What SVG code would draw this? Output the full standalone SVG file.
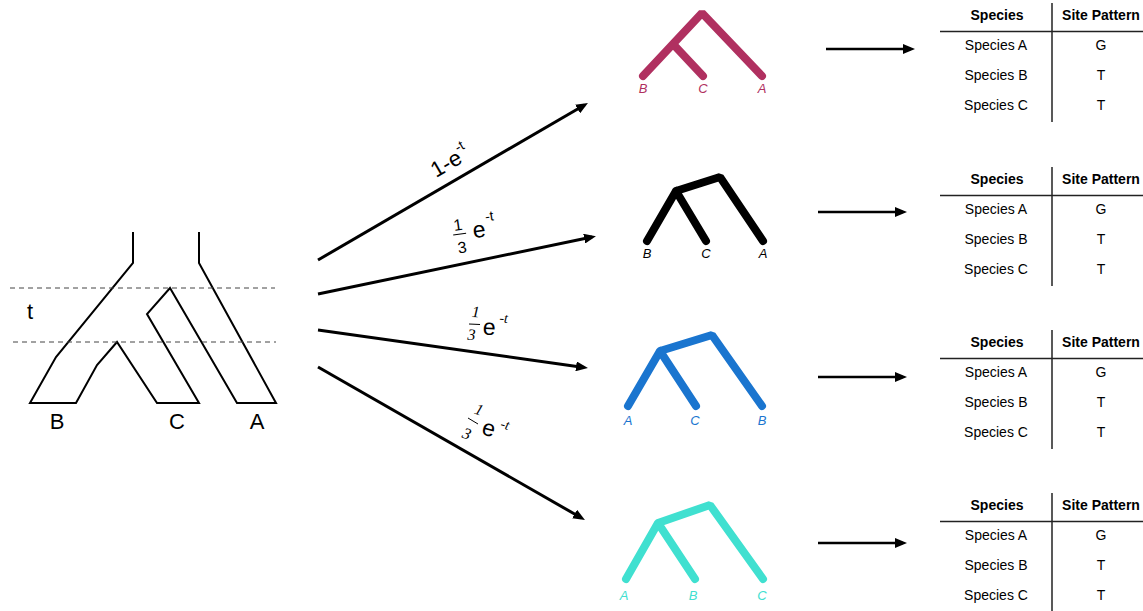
<svg xmlns="http://www.w3.org/2000/svg" width="1143" height="611" viewBox="0 0 1143 611">
<style>
.sp{fill:none;stroke:#000;stroke-width:2;stroke-linejoin:miter}
.dash{stroke:#444;stroke-width:1;stroke-dasharray:5,4}
.big{font-family:"Liberation Sans",Arial,sans-serif;font-size:22px;fill:#000}
.arr{stroke:#000;stroke-width:3;fill:none}
.harr{stroke:#000;stroke-width:2.5;fill:none}
.gt{fill:none;stroke-width:8;stroke-linecap:round;stroke-linejoin:bevel}
.tl{font-family:"Liberation Sans",Arial,sans-serif;font-size:13px;font-style:italic;text-anchor:middle}
.th{font-family:"Liberation Sans",Arial,sans-serif;font-size:14px;font-weight:bold;text-anchor:middle;fill:#000}
.td{font-family:"Liberation Sans",Arial,sans-serif;font-size:14px;text-anchor:middle;fill:#000}
.tline{stroke:#222;stroke-width:1.5}
.lab{font-family:"Liberation Sans",Arial,sans-serif;fill:#000}
.ser{font-family:"Liberation Serif","Times New Roman",serif;font-style:italic;fill:#000}
</style>
<defs>
<marker id="ah" viewBox="0 0 12 10" refX="8" refY="5" markerWidth="12" markerHeight="10" markerUnits="userSpaceOnUse" orient="auto">
<path d="M0,0 L12,5 L0,10 z" fill="#000"/>
</marker>
</defs>

<g id="species-tree">
<polyline class="sp" points="133,232 133,263 56,357 30,403 76,403 97,365 117,342 157,403 199,403 147,314 170,288 237,403 276,403 199,263 199,232"/>
<line class="dash" x1="10" y1="288" x2="275" y2="288"/>
<line class="dash" x1="13" y1="342" x2="276" y2="342"/>
<text class="big" x="30" y="319" text-anchor="middle">t</text>
<text class="big" x="57" y="429" text-anchor="middle">B</text>
<text class="big" x="177" y="429" text-anchor="middle">C</text>
<text class="big" x="257" y="429" text-anchor="middle">A</text>
</g>

<g id="connectors">
<line class="arr" x1="318" y1="260" x2="584.5" y2="105" marker-end="url(#ah)"/>
<line class="arr" x1="318" y1="294" x2="592" y2="237" marker-end="url(#ah)"/>
<line class="arr" x1="318" y1="330" x2="584" y2="367.5" marker-end="url(#ah)"/>
<line class="arr" x1="318" y1="367" x2="581.5" y2="518" marker-end="url(#ah)"/>
<line class="harr" x1="826" y1="49" x2="911" y2="49" marker-end="url(#ah)"/>
<line class="harr" x1="818" y1="212" x2="903" y2="212" marker-end="url(#ah)"/>
<line class="harr" x1="818" y1="377" x2="903" y2="377" marker-end="url(#ah)"/>
<line class="harr" x1="818" y1="543" x2="903" y2="543" marker-end="url(#ah)"/>
</g>

<g id="label-1">
<text class="lab" font-size="22" transform="translate(436,178) rotate(-30)">1-e<tspan font-size="14" dy="-11">-t</tspan></text>
</g>
<g id="label-2" transform="rotate(-8,475,232)">
<text class="lab" font-size="16" x="459" y="228" text-anchor="middle">1</text>
<line x1="453" y1="232" x2="466" y2="232" stroke="#000" stroke-width="1"/>
<text class="lab" font-size="16" x="460" y="251" text-anchor="middle">3</text>
<text class="lab" font-size="23" x="473" y="238">e</text>
<text class="lab" font-size="14" x="487" y="223">-t</text>
</g>
<g id="label-3" transform="rotate(3,490,325)">
<text class="ser" font-size="16" x="475" y="318" text-anchor="middle">1</text>
<line x1="469" y1="325" x2="480" y2="325" stroke="#000" stroke-width="1"/>
<text class="ser" font-size="16" x="472" y="341" text-anchor="middle">3</text>
<text class="lab" font-size="23" x="483" y="335">e</text>
<text class="ser" font-size="14" x="499" y="322">-t</text>
</g>
<g id="label-4">
<text class="ser" font-size="16" x="479" y="415" text-anchor="middle" transform="rotate(20,479,410)">1</text>
<line x1="468" y1="418" x2="478" y2="424" stroke="#000" stroke-width="1"/>
<text class="ser" font-size="16" x="467" y="439" text-anchor="middle" transform="rotate(20,467,433)">3</text>
<text class="lab" font-size="23" x="489" y="436" text-anchor="middle" transform="rotate(15,489,428)">e</text>
<text class="ser" font-size="14" x="505" y="429" text-anchor="middle" transform="rotate(15,505,425)">-t</text>
</g>

<g id="gene-tree-1">
<path class="gt" stroke="#b03060" d="M643,76 L702,13 L762,76 M673,44 L703,76"/>
<text class="tl" fill="#b03060" x="643" y="93">B</text>
<text class="tl" fill="#b03060" x="703" y="93">C</text>
<text class="tl" fill="#b03060" x="762" y="93">A</text>
</g>
<g id="gene-tree-2">
<path class="gt" stroke="#000" d="M647,241 L676,191 L720,177 L763,241 M676,191 L706,241"/>
<text class="tl" fill="#000" x="647" y="258">B</text>
<text class="tl" fill="#000" x="706" y="258">C</text>
<text class="tl" fill="#000" x="763" y="258">A</text>
</g>
<g id="gene-tree-3">
<path class="gt" stroke="#1a75cf" d="M628,406 L660,351 L712,335 L762,406 M660,351 L696,406"/>
<text class="tl" fill="#1a75cf" x="628" y="425">A</text>
<text class="tl" fill="#1a75cf" x="695" y="425">C</text>
<text class="tl" fill="#1a75cf" x="762" y="425">B</text>
</g>
<g id="gene-tree-4">
<path class="gt" stroke="#40e0d0" d="M626,579 L658,523 L710,505 L763,579 M658,523 L695,579"/>
<text class="tl" fill="#40e0d0" x="624" y="600">A</text>
<text class="tl" fill="#40e0d0" x="693" y="600">B</text>
<text class="tl" fill="#40e0d0" x="762" y="600">C</text>
</g>

<g id="table-1">
<line class="tline" x1="1052" y1="3" x2="1052" y2="122"/>
<line class="tline" x1="940" y1="31.5" x2="1143" y2="31.5"/>
<text class="th" x="997" y="20">Species</text>
<text class="th" x="1101" y="20">Site Pattern</text>
<text class="td" x="996" y="50">Species A</text><text class="td" x="1101" y="50">G</text>
<text class="td" x="996" y="80">Species B</text><text class="td" x="1101" y="80">T</text>
<text class="td" x="996" y="110">Species C</text><text class="td" x="1101" y="110">T</text>
</g>
<g id="table-2" transform="translate(0,164)">
<line class="tline" x1="1052" y1="3" x2="1052" y2="122"/>
<line class="tline" x1="940" y1="31.5" x2="1143" y2="31.5"/>
<text class="th" x="997" y="20">Species</text>
<text class="th" x="1101" y="20">Site Pattern</text>
<text class="td" x="996" y="50">Species A</text><text class="td" x="1101" y="50">G</text>
<text class="td" x="996" y="80">Species B</text><text class="td" x="1101" y="80">T</text>
<text class="td" x="996" y="110">Species C</text><text class="td" x="1101" y="110">T</text>
</g>
<g id="table-3" transform="translate(0,327)">
<line class="tline" x1="1052" y1="3" x2="1052" y2="122"/>
<line class="tline" x1="940" y1="31.5" x2="1143" y2="31.5"/>
<text class="th" x="997" y="20">Species</text>
<text class="th" x="1101" y="20">Site Pattern</text>
<text class="td" x="996" y="50">Species A</text><text class="td" x="1101" y="50">G</text>
<text class="td" x="996" y="80">Species B</text><text class="td" x="1101" y="80">T</text>
<text class="td" x="996" y="110">Species C</text><text class="td" x="1101" y="110">T</text>
</g>
<g id="table-4" transform="translate(0,490)">
<line class="tline" x1="1052" y1="3" x2="1052" y2="122"/>
<line class="tline" x1="940" y1="31.5" x2="1143" y2="31.5"/>
<text class="th" x="997" y="20">Species</text>
<text class="th" x="1101" y="20">Site Pattern</text>
<text class="td" x="996" y="50">Species A</text><text class="td" x="1101" y="50">G</text>
<text class="td" x="996" y="80">Species B</text><text class="td" x="1101" y="80">T</text>
<text class="td" x="996" y="110">Species C</text><text class="td" x="1101" y="110">T</text>
</g>
</svg>
